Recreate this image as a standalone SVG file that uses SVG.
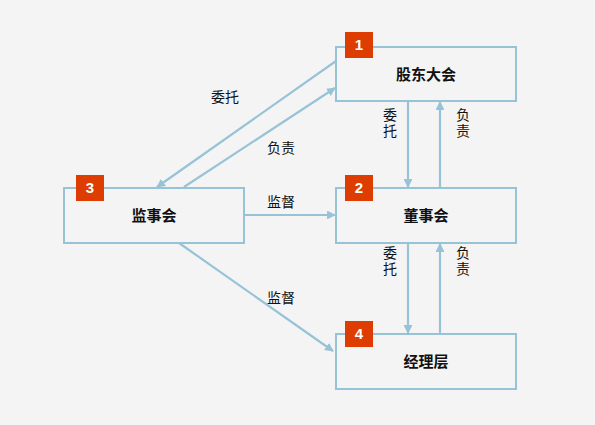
<svg xmlns="http://www.w3.org/2000/svg" width="595" height="425" viewBox="0 0 595 425">
<defs>
<style>
.box{fill:#f4f4f4;stroke:#98c3d7;stroke-width:2}
.badge{fill:#dd3d00}
.num{font-family:"Liberation Sans",Arial,sans-serif;font-size:15px;font-weight:bold;fill:#ffffff;text-anchor:middle}
.name{font-family:"Noto Sans CJK SC","Liberation Sans",sans-serif;font-size:15px;font-weight:bold;fill:#111111;text-anchor:middle}
.lbl{font-family:"Noto Sans CJK SC","Liberation Sans",sans-serif;font-size:14px;fill:#111111;text-anchor:middle}
.vl{font-family:"Noto Sans CJK SC","Liberation Sans",sans-serif;font-size:14px;fill:#111111;writing-mode:vertical-rl;letter-spacing:2px}
.ln{stroke:#98c3d7;stroke-width:2.2;fill:none;marker-end:url(#ah)}
</style>
<marker id="ah" viewBox="0 0 10 10" refX="9" refY="5" markerWidth="4" markerHeight="4" orient="auto" markerUnits="strokeWidth">
<path d="M0,0 L10,5 L0,10 z" fill="#98c3d7"/>
</marker>
</defs>
<rect width="595" height="425" fill="#f4f4f4"/>
<g id="connectors">
<line class="ln" x1="408" y1="102" x2="408" y2="187"/>
<line class="ln" x1="440" y1="188" x2="440" y2="102"/>
<line class="ln" x1="408" y1="243" x2="408" y2="333"/>
<line class="ln" x1="440" y1="334" x2="440" y2="244"/>
<line class="ln" x1="244" y1="215" x2="335" y2="215"/>
<line class="ln" x1="336" y1="61" x2="157" y2="187"/>
<line class="ln" x1="184" y1="187" x2="335" y2="88"/>
<line class="ln" x1="179" y1="243" x2="333" y2="351"/>
<text class="lbl" x="225" y="102">委托</text>
<text class="lbl" x="281" y="153">负责</text>
<text class="lbl" x="281" y="207">监督</text>
<text class="lbl" x="281" y="303">监督</text>
<text class="vl" x="390" y="108">委托</text>
<text class="vl" x="463" y="108">负责</text>
<text class="vl" x="390" y="246">委托</text>
<text class="vl" x="463" y="246">负责</text>
</g>
<g id="node1">
<rect class="box" x="336" y="47" width="180" height="54"/>
<rect class="badge" x="345" y="32" width="28" height="26"/>
<text class="num" x="359" y="50">1</text>
<text class="name" x="426" y="80">股东大会</text>
</g>
<g id="node2">
<rect class="box" x="336" y="188" width="180" height="55"/>
<rect class="badge" x="345" y="175" width="28" height="26"/>
<text class="num" x="359" y="193">2</text>
<text class="name" x="426" y="221">董事会</text>
</g>
<g id="node3">
<rect class="box" x="64" y="188" width="180" height="55"/>
<rect class="badge" x="76" y="175" width="28" height="26"/>
<text class="num" x="90" y="193">3</text>
<text class="name" x="154" y="221">监事会</text>
</g>
<g id="node4">
<rect class="box" x="336" y="334" width="180" height="55"/>
<rect class="badge" x="345" y="321" width="28" height="26"/>
<text class="num" x="359" y="339">4</text>
<text class="name" x="426" y="367">经理层</text>
</g>
</svg>
